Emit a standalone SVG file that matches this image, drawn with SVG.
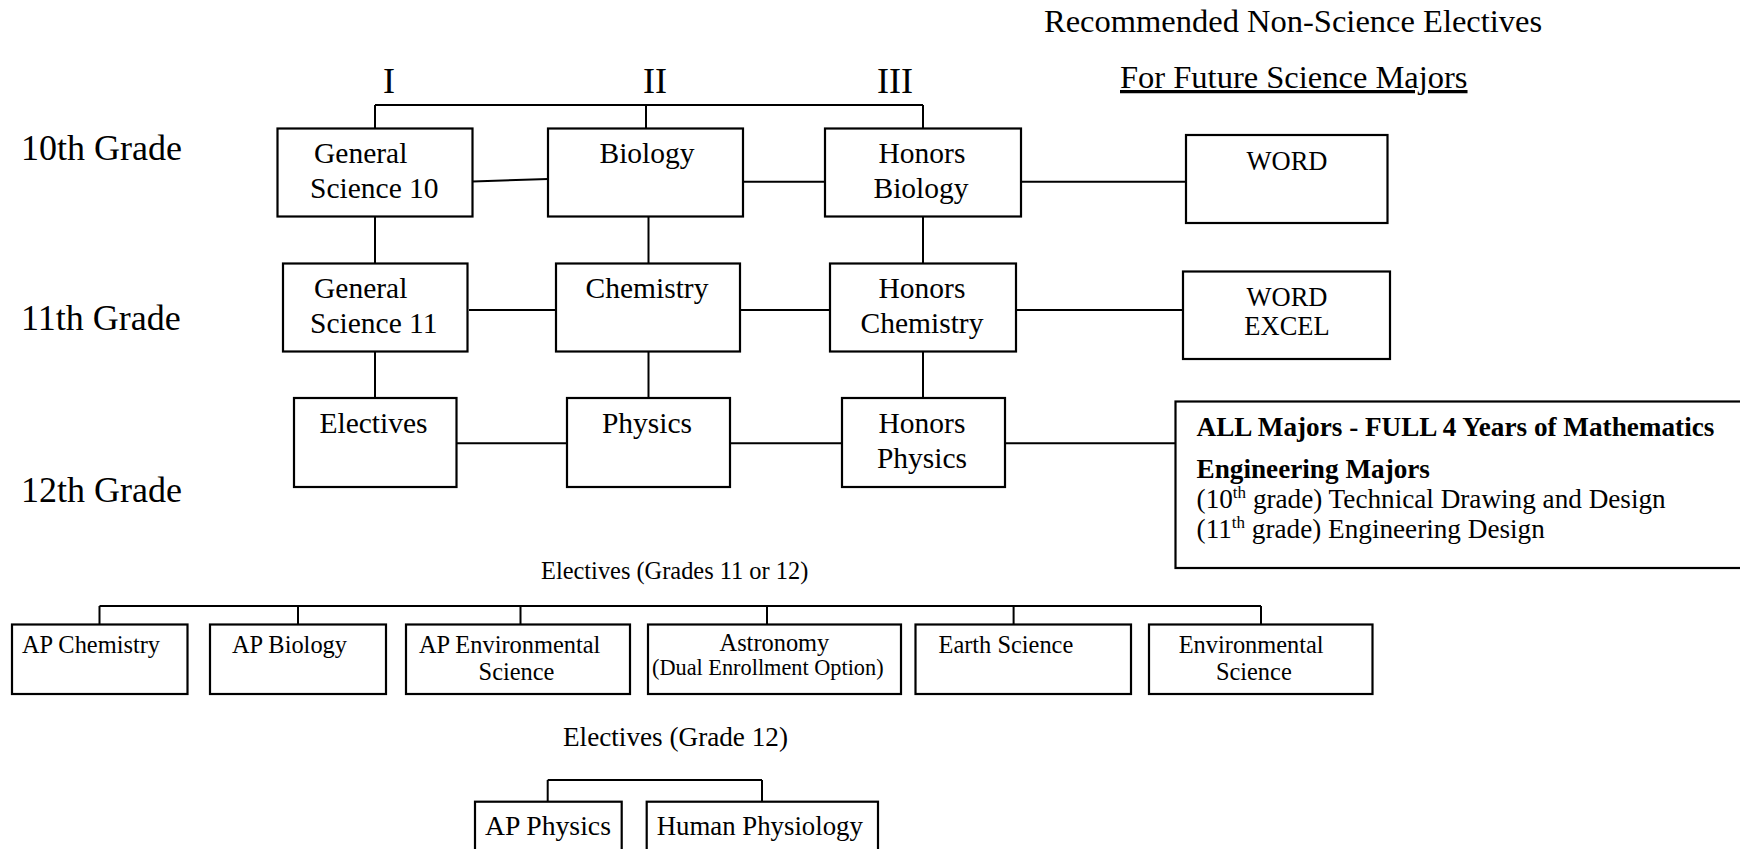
<svg xmlns="http://www.w3.org/2000/svg" width="1740" height="849" viewBox="0 0 1740 849">
<style>
text{font-family:"Liberation Serif","Times New Roman",serif;fill:#000}
.box{fill:#fff;stroke:#000;stroke-width:2.2}
.ln{fill:none;stroke:#000;stroke-width:2}
.hd{font-size:32.5px}
.gr{font-size:36px}
.rn{font-size:36px;text-anchor:middle}
.bt{font-size:29.5px}
.c{text-anchor:middle}
.wd{font-size:26.5px;text-anchor:middle}
.el{font-size:24.4px}
.e2{font-size:27.2px}
.b{font-weight:bold}
</style>
<rect width="1740" height="849" fill="#fff"/>
<g id="headers">
<text class="hd" x="1044" y="32">Recommended Non-Science Electives</text>
<text class="hd" x="1120" y="88" text-decoration="underline">For Future Science Majors</text>
<text class="rn" x="389" y="93">I</text>
<text class="rn" x="655" y="93">II</text>
<text class="rn" x="895" y="93">III</text>
<text class="gr" x="21" y="160">10th Grade</text>
<text class="gr" x="21" y="330">11th Grade</text>
<text class="gr" x="21" y="502">12th Grade</text>
<text class="el" x="541" y="579">Electives (Grades 11 or 12)</text>
<text class="e2" x="563" y="746">Electives (Grade 12)</text>
</g>
<g id="connectors">
<path class="ln" d="M375 105H923M375 105V128.5M646 105V128.5M923 105V128.5"/>
<path class="ln" d="M465 181.7L548 179M743 181.7H829M1015 181.7H1186"/>
<path class="ln" d="M375 216.5V263.5M648.5 216.5V263.5M923 216.5V263.5"/>
<path class="ln" d="M469 310H560M736.5 310H829M1016.6 310H1183"/>
<path class="ln" d="M375 351.5V398M648.5 351.5V398M923 351.5V398"/>
<path class="ln" d="M400 443.3H567M730 443.3H842M1005 443.3H1175.5"/>
<path class="ln" d="M99.5 606H1261M99.5 606V624.5M298 606V624.5M520.5 606V624.5M767 606V624.5M1013.6 606V624.5M1261 606V624.5"/>
<path class="ln" d="M547.7 780H762M547.7 780V801.7M762 780V801.7"/>
</g>
<g id="gs10"><rect class="box" x="277.5" y="128.5" width="195" height="88"/><text class="bt" x="314" y="163">General</text><text class="bt" x="310" y="198">Science 10</text></g>
<g id="biology"><rect class="box" x="548" y="128.5" width="195" height="88"/><text class="bt c" x="647" y="163">Biology</text></g>
<g id="honbio"><rect class="box" x="825" y="128.5" width="196" height="88"/><text class="bt c" x="922" y="163">Honors</text><text class="bt c" x="921" y="198">Biology</text></g>
<g id="word1"><rect class="box" x="1186" y="135" width="201.5" height="88"/><text class="wd" x="1287" y="170">WORD</text></g>
<g id="gs11"><rect class="box" x="283" y="263.5" width="184.5" height="88"/><text class="bt" x="314" y="298">General</text><text class="bt" x="310" y="333">Science 11</text></g>
<g id="chem"><rect class="box" x="556" y="263.5" width="184" height="88"/><text class="bt c" x="647" y="298">Chemistry</text></g>
<g id="honchem"><rect class="box" x="830" y="263.5" width="186" height="88"/><text class="bt c" x="922" y="298">Honors</text><text class="bt c" x="922" y="333">Chemistry</text></g>
<g id="word2"><rect class="box" x="1183" y="271.5" width="207" height="87.5"/><text class="wd" x="1287" y="306">WORD</text><text class="wd" x="1287" y="335">EXCEL</text></g>
<g id="electives"><rect class="box" x="294" y="398" width="162.5" height="89"/><text class="bt c" x="373.5" y="433">Electives</text></g>
<g id="physics"><rect class="box" x="567" y="398" width="163" height="89"/><text class="bt c" x="647" y="433">Physics</text></g>
<g id="honphys"><rect class="box" x="842" y="398" width="163" height="89"/><text class="bt c" x="922" y="433">Honors</text><text class="bt c" x="922" y="467.5">Physics</text></g>
<g id="majors"><rect class="box" x="1175.5" y="401.5" width="570" height="166.5"/>
<text class="e2 b" x="1196.6" y="436">ALL Majors - FULL 4 Years of Mathematics</text>
<text class="e2 b" x="1196.6" y="478">Engineering Majors</text>
<text class="e2" x="1196.6" y="508">(10<tspan font-size="17" dy="-10">th</tspan><tspan dy="10"> grade) Technical Drawing and Design</tspan></text>
<text class="e2" x="1196.6" y="538">(11<tspan font-size="17" dy="-10">th</tspan><tspan dy="10"> grade) Engineering Design</tspan></text>
</g>
<g id="apchem"><rect class="box" x="12" y="624.5" width="175.5" height="69.5"/><text class="el" x="22" y="653">AP Chemistry</text></g>
<g id="apbio"><rect class="box" x="210" y="624.5" width="176" height="69.5"/><text class="el" x="232" y="653">AP Biology</text></g>
<g id="apenv"><rect class="box" x="406" y="624.5" width="224" height="69.5"/><text class="el" x="419" y="653">AP Environmental</text><text class="el c" x="516.5" y="680">Science</text></g>
<g id="astro"><rect class="box" x="648" y="624.5" width="253" height="69.5"/><text class="el c" x="774.4" y="650.5">Astronomy</text><text x="652" y="675" font-size="22.3">(Dual Enrollment Option)</text></g>
<g id="earth"><rect class="box" x="915.5" y="624.5" width="215.5" height="69.5"/><text class="el" x="938.5" y="653">Earth Science</text></g>
<g id="envsci"><rect class="box" x="1149" y="624.5" width="223.5" height="69.5"/><text class="el" x="1178.7" y="653">Environmental</text><text class="el c" x="1253.8" y="680">Science</text></g>
<g id="apphys"><rect class="box" x="475" y="801.7" width="146.7" height="60"/><text x="485" y="835" font-size="27.7">AP Physics</text></g>
<g id="humphys"><rect class="box" x="646.7" y="801.7" width="231.3" height="60"/><text x="656.7" y="835" font-size="26.8">Human Physiology</text></g>
</svg>
